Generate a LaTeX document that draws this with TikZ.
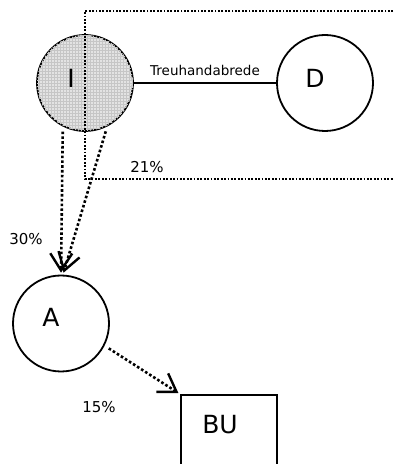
\documentclass[tikz,border=0pt]{standalone}
\usepackage{fontspec}
\setmainfont{DejaVu Sans}
\usetikzlibrary{patterns}
\usetikzlibrary{arrows.meta}

\begin{document}
\begin{tikzpicture}[x=1pt,y=1pt,
  party/.style={circle,draw,line width=1.8pt,minimum size=96pt,inner sep=0pt},
  unit/.style={rectangle,draw,line width=1.8pt,minimum size=96pt,inner sep=0pt},
  share/.style={line width=2.6pt,dash pattern=on 2.6pt off 2.2pt,shorten <=5pt,
    -{Straight Barb[length=17pt,width=22pt,line width=2.4pt]}},
  frame/.style={line width=1.8pt,dash pattern=on 1.8pt off 1.6pt},
  big/.style={font=\fontsize{25}{30}\selectfont},
  pct/.style={font=\fontsize{15}{18}\selectfont}]
  \useasboundingbox (0,0) rectangle (394,464);
  \clip (0,0) rectangle (394,464);

  % parties
  \node [party,fill=gray!22,postaction={pattern=grid,pattern color=gray!45},
    label={[big,xshift=-14pt,yshift=5pt]center:I}] (I) at (85,381) {};
  \node [party,label={[big,xshift=-10pt,yshift=5pt]center:D}] (D) at (325,381) {};
  \node [party,label={[big,xshift=-10pt,yshift=6.5pt]center:A}] (A) at (61,140.5) {};
  \node [unit,label={[big,xshift=-9pt,yshift=18pt]center:BU}] (BU) at (229,21) {};

  \draw [line width=1.8pt] (I) -- node [above=4pt,inner sep=2pt,font=\fontsize{13.5}{16}\selectfont] {Treuhandabrede} (D);

  % dotted frame
  \draw [frame] (400,453) -- (85,453) -- (85,285) -- (400,285);

  % shares
  \draw [share,shorten >=2pt] (I.243) -- (A.north);
  \draw [share,shorten >=2pt] (I.297) -- ([xshift=2pt]A.north);
  \draw [share,shorten >=2pt] (A.-27) -- (BU.north west);

  \node [pct] (p21) at (147,297) {21\%};
  \node [pct] (p30) at (26,225) {30\%};
  \node [pct] (p15) at (99,57) {15\%};
\end{tikzpicture}
\end{document}
